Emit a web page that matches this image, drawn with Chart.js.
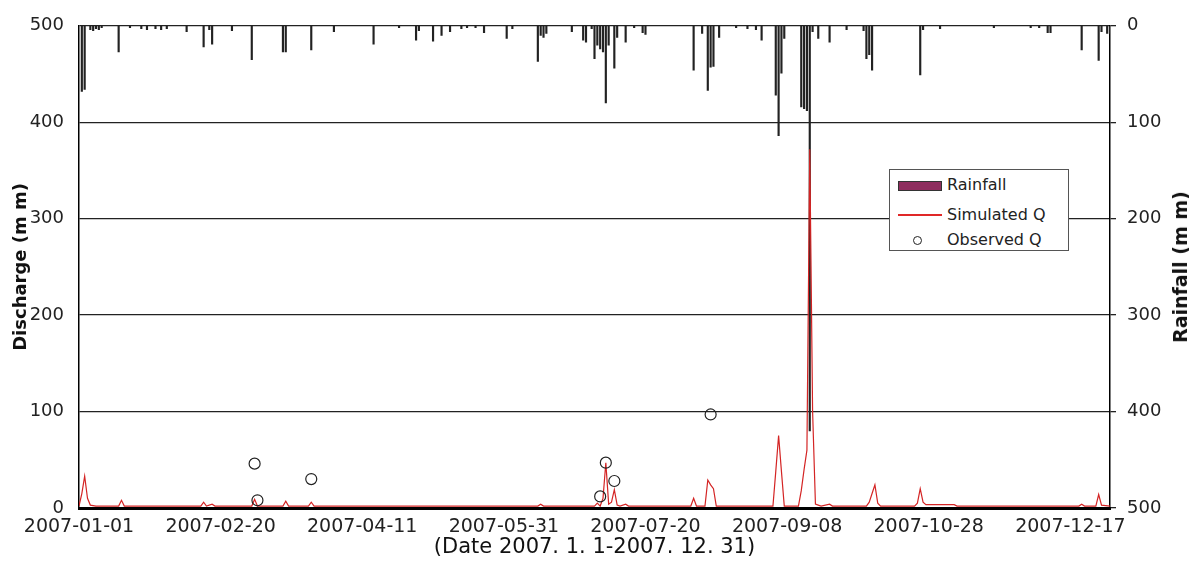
<!DOCTYPE html>
<html>
<head>
<meta charset="utf-8">
<script src="https://cdn.jsdelivr.net/npm/chart.js@4.4.1/dist/chart.umd.min.js"></script>
<style>
  body { margin: 0; background: #fff; }
  #wrap { position: relative; width: 1189px; height: 561px; }
  #legend { position: absolute; left: 889px; top: 169px; width: 180px; height: 82px;
            border: 1px solid #555; background: #fff; box-sizing: border-box;
            font: 16px "DejaVu Sans", sans-serif; color: #222; }
  #legend .txt { position: absolute; left: 57px; line-height: 20px; white-space: nowrap; }
  #legend .sw { position: absolute; }
  #rainTitle { position: absolute; left: 1180px; top: 267px; transform: translate(-50%, -50%) rotate(-90deg);
               font: bold 19px "DejaVu Sans", sans-serif; color: #111; white-space: nowrap; }
</style>
</head>
<body>
<div id="wrap">
  <canvas id="hydroChart"></canvas>
  <div id="rainTitle">Rainfall (m m)</div>
  <div id="legend">
    <div class="sw" style="left:8px;top:11px;width:44px;height:10px;background:#8e2d5e;border:1px solid #333;box-sizing:border-box"></div>
    <div class="txt" style="top:5px">Rainfall</div>
    <div class="sw" style="left:8px;top:44px;width:44px;height:2px;background:#e02828"></div>
    <div class="txt" style="top:35px">Simulated Q</div>
    <div class="sw" style="left:23px;top:66px;width:9px;height:9px;border:1px solid #222;border-radius:50%;box-sizing:border-box"></div>
    <div class="txt" style="top:60px">Observed Q</div>
  </div>
</div>
<script>
// day index from 2007-01-01 (0) to 2007-12-31 (364)
const tickDays = [0, 50, 100, 150, 200, 250, 300, 350];
const tickLabels = ['2007-01-01', '2007-02-20', '2007-04-11', '2007-05-31',
                    '2007-07-20', '2007-09-08', '2007-10-28', '2007-12-17'];

// daily rainfall (mm), only the days with rain
const rainDays = [1, 2, 4, 5, 6, 7, 8, 14, 18, 22, 24, 27, 29, 31, 38, 44, 46, 47, 54, 61,
  72, 73, 82, 90, 104, 113, 119, 120, 125, 128, 131, 135, 137, 140, 143, 151, 153,
  162, 163, 164, 165, 174, 178, 179, 181, 182, 183, 184, 185, 186, 187, 189, 190, 193,
  196, 199, 200, 217, 220, 222, 223, 224, 226, 232, 236, 239, 241, 246, 247, 248, 249,
  255, 256, 257, 258, 259, 261, 265, 271, 277, 278, 279, 280, 297, 298, 304, 323,
  336, 339, 342, 343, 354, 360, 361, 363, 364];
const rainMm = [68, 66, 4, 5, 3, 4, 2, 27, 2, 3, 4, 3, 4, 3, 6, 22, 4, 19, 5, 35,
  27, 27, 25, 6, 19, 2, 15, 5, 16, 10, 6, 3, 2, 2, 7, 13, 3,
  37, 10, 12, 8, 6, 15, 17, 3, 34, 20, 24, 27, 80, 20, 44, 12, 17,
  2, 7, 9, 46, 8, 67, 43, 42, 12, 2, 3, 4, 15, 72, 114, 49, 13,
  84, 86, 88, 420, 6, 13, 17, 4, 5, 34, 30, 46, 51, 4, 3, 2,
  2, 2, 7, 7, 25, 36, 6, 8, 8];

// simulated discharge (mm)
const simDays = [0, 1, 2, 3, 4, 6, 14, 15, 16, 43, 44, 45, 47, 48, 61, 62, 63, 72, 73, 74,
  81, 82, 83, 162, 163, 164, 182, 183, 184, 185, 186, 187, 188, 189, 190, 191, 193, 194,
  216, 217, 218, 221, 222, 223, 224, 225, 245, 246, 247, 248, 249, 254, 255, 256, 257,
  258, 259, 260, 261, 262, 265, 266, 278, 279, 280, 281, 282, 283, 295, 296, 297, 298,
  299, 309, 310, 353, 354, 355, 359, 360, 361, 364];
const simQ = [2, 15, 33, 10, 3, 2, 2, 8, 2, 2, 6, 2, 4, 2, 2, 9, 2, 2, 7, 2,
  2, 6, 2, 2, 4, 2, 2, 5, 2, 10, 47, 4, 6, 19, 3, 2, 4, 2,
  2, 10, 2, 2, 29, 24, 20, 2, 2, 38, 75, 38, 2, 2, 18, 40, 60,
  372, 100, 4, 3, 2, 4, 2, 2, 6, 15, 24, 5, 2, 2, 5, 20, 6,
  3.5, 3.5, 2, 2, 4, 2, 2, 14, 3, 2];

// observed discharge (mm)
const obsDays = [62, 63, 82, 184, 186, 189, 223];
const obsQ = [46, 8, 30, 12, 47, 28, 97];

const pts = (xs, ys) => xs.map((x, i) => ({ x: x, y: ys[i] }));
const tickFont = { family: 'DejaVu Sans', size: 18 };

new Chart(document.getElementById('hydroChart'), {
  type: 'bar',
  data: {
    datasets: [
      {
        type: 'scatter',
        label: 'Observed Q',
        data: pts(obsDays, obsQ),
        yAxisID: 'y',
        pointStyle: 'circle',
        pointRadius: 5.5,
        borderColor: '#222',
        borderWidth: 1.2,
        backgroundColor: 'rgba(0,0,0,0)',
        order: 0
      },
      {
        type: 'line',
        label: 'Simulated Q',
        data: pts(simDays, simQ),
        yAxisID: 'y',
        borderColor: '#d42424',
        borderWidth: 1.2,
        pointRadius: 0,
        tension: 0,
        order: 1
      },
      {
        type: 'bar',
        label: 'Rainfall',
        data: pts(rainDays, rainMm),
        yAxisID: 'y2',
        backgroundColor: '#222',
        barThickness: 1.5,
        order: 2
      }
    ]
  },
  options: {
    responsive: true,
    maintainAspectRatio: false,
    animation: false,
    layout: { padding: { top: 22, bottom: 0, left: 0, right: 0 } },
    plugins: { legend: { display: false }, tooltip: { enabled: false } },
    scales: {
      x: {
        type: 'linear',
        min: 0,
        max: 364,
        offset: false,
        afterFit: s => { s.height = 53; },
        afterBuildTicks: s => { s.ticks = tickDays.map(v => ({ value: v })); },
        grid: { display: false, offset: false },
        border: { display: true, color: '#000', width: 3, dash: [11, 2] },
        ticks: {
          callback: v => tickLabels[tickDays.indexOf(v)],
          font: { family: 'DejaVu Sans', size: 19 },
          color: '#222',
          padding: 0,
          maxRotation: 0,
          autoSkip: false
        },
        title: {
          display: true,
          text: '(Date 2007. 1. 1-2007. 12. 31)',
          font: { family: 'DejaVu Sans', size: 21, lineHeight: 1 },
          color: '#111',
          padding: { top: 0, bottom: 3 }
        }
      },
      y: {
        position: 'left',
        min: 0,
        max: 500,
        afterFit: s => { s.width = 79; },
        ticks: { stepSize: 100, font: tickFont, color: '#222', padding: 15 },
        grid: { color: '#222', lineWidth: 1.3, drawTicks: false },
        border: { display: true, color: '#000', width: 1.5 },
        title: {
          display: true,
          text: 'Discharge (m m)',
          font: { family: 'DejaVu Sans', size: 18, weight: 'bold', lineHeight: 1 },
          color: '#111',
          padding: { top: 12, bottom: 0 }
        }
      },
      y2: {
        position: 'right',
        min: 0,
        max: 500,
        reverse: true,
        afterFit: s => { s.width = 79; },
        ticks: { stepSize: 100, font: tickFont, color: '#222', padding: 11 },
        grid: { drawOnChartArea: false, drawTicks: true, tickLength: 6, color: '#222', lineWidth: 1.3 },
        border: { display: true, color: '#000', width: 1.5 }
      }
    }
  }
});
</script>
</body>
</html>
